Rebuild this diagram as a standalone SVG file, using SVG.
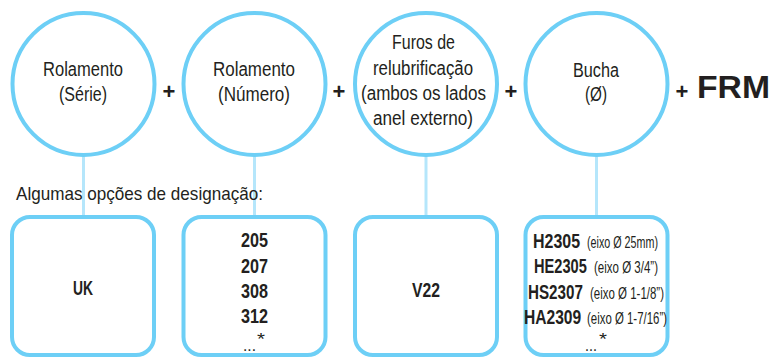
<svg xmlns="http://www.w3.org/2000/svg" width="773" height="358" viewBox="0 0 773 358">
<style>
.circ{fill:#fff;stroke:#6dcff6;stroke-width:4}
.box{fill:#fff;stroke:#6dcff6;stroke-width:4}
.conn{stroke:#b5e6fb;stroke-width:3;fill:none}
text{font-family:"Liberation Sans",Arial,sans-serif;fill:#231f20}
.lbl{font-size:19.5px}
.b{font-weight:bold;font-size:19.5px}
.r{font-size:17px;font-weight:normal}
.plus{font-size:22px;font-weight:bold;text-anchor:middle}
.frm{font-size:32px;font-weight:900}
.note{font-size:19px}
</style>
<g id="connectors">
<line class="conn" x1="83.5" y1="156" x2="83.5" y2="216"/>
<line class="conn" x1="254.5" y1="156" x2="254.5" y2="216"/>
<line class="conn" x1="426" y1="156" x2="426" y2="216"/>
<line class="conn" x1="596.5" y1="156" x2="596.5" y2="216"/>
</g>
<text class="note" x="16" y="200" textLength="247" lengthAdjust="spacingAndGlyphs">Algumas opções de designação:</text>
<g id="c1">
<circle class="circ" cx="83.5" cy="84" r="71"/>
<text class="lbl" x="43" y="76" textLength="80" lengthAdjust="spacingAndGlyphs">Rolamento</text>
<text class="lbl" x="59" y="101" textLength="48" lengthAdjust="spacingAndGlyphs">(Série)</text>
</g>
<g id="c2">
<circle class="circ" cx="254.5" cy="84" r="71"/>
<text class="lbl" x="213" y="76" textLength="82" lengthAdjust="spacingAndGlyphs">Rolamento</text>
<text class="lbl" x="218" y="101" textLength="72" lengthAdjust="spacingAndGlyphs">(Número)</text>
</g>
<g id="c3">
<circle class="circ" cx="426" cy="84" r="71"/>
<text class="lbl" x="392" y="49" textLength="63" lengthAdjust="spacingAndGlyphs">Furos de</text>
<text class="lbl" x="373" y="75" textLength="100" lengthAdjust="spacingAndGlyphs">relubrificação</text>
<text class="lbl" x="361" y="100" textLength="125" lengthAdjust="spacingAndGlyphs">(ambos os lados</text>
<text class="lbl" x="373" y="125" textLength="100" lengthAdjust="spacingAndGlyphs">anel externo)</text>
</g>
<g id="c4">
<circle class="circ" cx="596.5" cy="84" r="71"/>
<text class="lbl" x="573" y="77" textLength="46" lengthAdjust="spacingAndGlyphs">Bucha</text>
<text class="lbl" x="585" y="101" textLength="22" lengthAdjust="spacingAndGlyphs">(Ø)</text>
</g>
<g id="plus">
<text class="plus" x="169" y="99">+</text>
<text class="plus" x="339" y="99">+</text>
<text class="plus" x="511" y="99">+</text>
<text class="plus" x="682" y="99">+</text>
</g>
<g id="frm">
<text class="frm" x="697" y="98" textLength="73" lengthAdjust="spacingAndGlyphs">FRM</text>
</g>
<g id="b1">
<rect class="box" x="12" y="217" width="142" height="138" rx="18"/>
<text class="b" x="73" y="295" textLength="20" lengthAdjust="spacingAndGlyphs">UK</text>
</g>
<g id="b2">
<rect class="box" x="183.5" y="217" width="142" height="138" rx="18"/>
<text class="b" x="241" y="247" textLength="27" lengthAdjust="spacingAndGlyphs">205</text>
<text class="b" x="241" y="273" textLength="27" lengthAdjust="spacingAndGlyphs">207</text>
<text class="b" x="241" y="298" textLength="27" lengthAdjust="spacingAndGlyphs">308</text>
<text class="b" x="241" y="323" textLength="27" lengthAdjust="spacingAndGlyphs">312</text>
<text class="r" x="243" y="351" textLength="13" lengthAdjust="spacingAndGlyphs">...</text>
<text class="r" x="257" y="345" textLength="8" lengthAdjust="spacingAndGlyphs">*</text>
</g>
<g id="b3">
<rect class="box" x="355" y="217" width="142" height="138" rx="18"/>
<text class="b" x="412" y="297" textLength="28" lengthAdjust="spacingAndGlyphs">V22</text>
</g>
<g id="b4">
<rect class="box" x="525.5" y="217" width="142" height="138" rx="18"/>
<text class="b" transform="translate(533,248) scale(0.82,1)">H2305</text>
<text class="r" x="587" y="248" textLength="71" lengthAdjust="spacingAndGlyphs">(eixo Ø 25mm)</text>
<text class="b" transform="translate(534,273) scale(0.75,1)">HE2305</text>
<text class="r" x="594" y="273" textLength="64" lengthAdjust="spacingAndGlyphs">(eixo Ø 3/4”)</text>
<text class="b" transform="translate(528,299) scale(0.78,1)">HS2307</text>
<text class="r" x="590" y="299" textLength="74" lengthAdjust="spacingAndGlyphs">(eixo Ø 1-1/8”)</text>
<text class="b" transform="translate(524,324) scale(0.8,1)">HA2309</text>
<text class="r" x="587" y="324" textLength="80" lengthAdjust="spacingAndGlyphs">(eixo Ø 1-7/16”)</text>
<text class="r" x="585" y="351" textLength="12" lengthAdjust="spacingAndGlyphs">...</text>
<text class="r" x="599" y="345" textLength="8" lengthAdjust="spacingAndGlyphs">*</text>
</g>
</svg>
